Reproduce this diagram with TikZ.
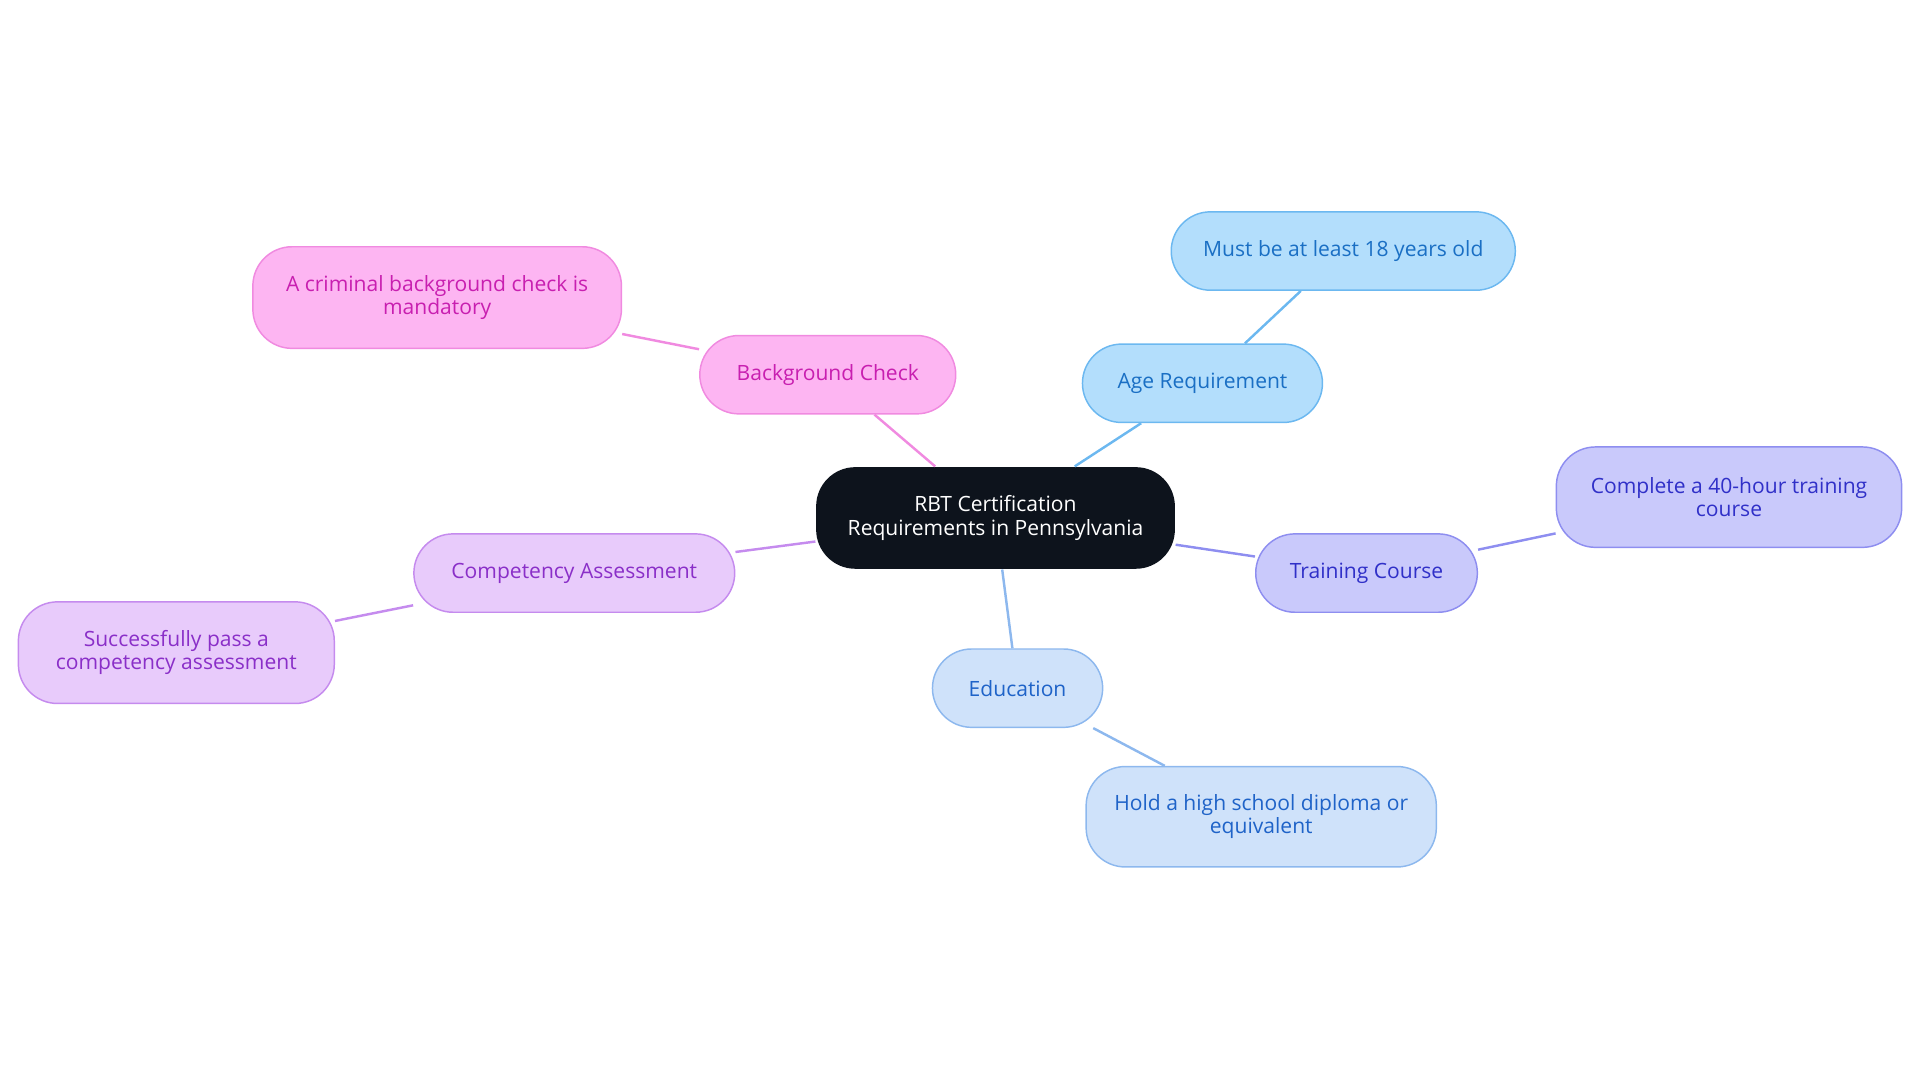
\documentclass[tikz,border=0pt]{standalone}
\usepackage{fontspec}
\setmainfont{Open Sans}
\begin{document}
\begin{tikzpicture}[x=0.5pt,y=-0.5pt,
  box/.style={rounded corners=16pt,align=center,inner sep=0pt,line width=0.6pt,font=\fontsize{8.6}{9.6}\selectfont},
  bl/.style={box,fill=blueA,draw=blueB,text=blueC},
  pu/.style={box,fill=purA,draw=purB,text=purC},
  ed/.style={box,fill=edA,draw=edB,text=edC},
  vi/.style={box,fill=viA,draw=viB,text=viC},
  pk/.style={box,fill=pkA,draw=pkB,text=pkC},
  ln/.style={line width=1pt}]
\definecolor{blueA}{HTML}{B3DEFC}\definecolor{blueB}{HTML}{6CB8F0}\definecolor{blueC}{HTML}{1A6FC4}
\definecolor{purA}{HTML}{C9C9FB}\definecolor{purB}{HTML}{8E8EF0}\definecolor{purC}{HTML}{3030C8}
\definecolor{edA}{HTML}{CFE2FA}\definecolor{edB}{HTML}{8DB8EE}\definecolor{edC}{HTML}{1F63C8}
\definecolor{viA}{HTML}{E8CBFB}\definecolor{viB}{HTML}{C58BEE}\definecolor{viC}{HTML}{8A2FC8}
\definecolor{pkA}{HTML}{FDB5F2}\definecolor{pkB}{HTML}{F08AE0}\definecolor{pkC}{HTML}{C81FB0}
\useasboundingbox (0,0) rectangle (1568,884);
\node[box,fill={rgb,255:red,13;green,19;blue,28},text=white,minimum width=293*0.5pt,minimum height=83*0.5pt] (c) at (813,423) {RBT Certification\\Requirements in Pennsylvania};
\node[bl,minimum width=196*0.5pt,minimum height=64*0.5pt] (age) at (982,313) {Age Requirement};
\node[bl,minimum width=281*0.5pt,minimum height=64*0.5pt] (age1) at (1097,205) {Must be at least 18 years old};
\node[pu,minimum width=181*0.5pt,minimum height=64*0.5pt] (tr) at (1116,468) {Training Course};
\node[pu,minimum width=282*0.5pt,minimum height=82*0.5pt] (tr1) at (1412,406) {Complete a 40-hour training\\course};
\node[ed,minimum width=139*0.5pt,minimum height=64*0.5pt] (ed) at (831,562) {Education};
\node[ed,minimum width=286*0.5pt,minimum height=82*0.5pt] (ed1) at (1030,667) {Hold a high school diploma or\\equivalent};
\node[vi,minimum width=262*0.5pt,minimum height=64*0.5pt] (co) at (469,468) {Competency Assessment};
\node[vi,minimum width=258*0.5pt,minimum height=83*0.5pt] (co1) at (144,533) {Successfully pass a\\competency assessment};
\node[pk,minimum width=209*0.5pt,minimum height=64*0.5pt] (bg) at (676,306) {Background Check};
\node[pk,minimum width=301*0.5pt,minimum height=83*0.5pt] (bg1) at (357,243) {A criminal background check is\\mandatory};
\begin{scope}[on background layer/.try]
\end{scope}
\draw[ln,draw=blueB] (c) -- (age); \draw[ln,draw=blueB] (age) -- (age1);
\draw[ln,draw=purB] (c) -- (tr); \draw[ln,draw=purB] (tr) -- (tr1);
\draw[ln,draw=edB] (c) -- (ed); \draw[ln,draw=edB] (ed) -- (ed1);
\draw[ln,draw=viB] (c) -- (co); \draw[ln,draw=viB] (co) -- (co1);
\draw[ln,draw=pkB] (c) -- (bg); \draw[ln,draw=pkB] (bg) -- (bg1);
\end{tikzpicture}
\end{document}
